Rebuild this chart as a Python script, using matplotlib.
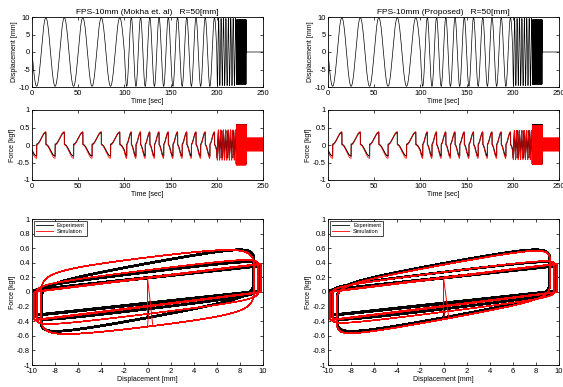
import numpy as np
import matplotlib
matplotlib.use("Agg")
import matplotlib.pyplot as plt
from matplotlib.ticker import FormatStrFormatter

plt.rcParams['font.family'] = ['Liberation Sans', 'DejaVu Sans']
plt.rcParams['axes.unicode_minus'] = False

# ---------------- data ----------------
titles = ["FPS-10mm (Mokha et. al)   R=50[mm]", "FPS-10mm (Proposed)   R=50[mm]"]
legend_labels = ["Experiment", "Simulation"]

# displacement protocol: sinusoidal segments
seg_start = [0, 100, 200, 221]      # s
seg_end = [100, 200, 221, 232]      # s
seg_cycles = [5, 10, 8, 22]
seg_amp = [9.8, 9.8, 9.6, 9.2]      # mm
t_end = 250

# loop slope [kgf/mm] and sliding friction [kgf] per segment, read from loops
exp_k = [0.017, 0.017, 0.019, 0.029]
exp_mu = [0.17, 0.18, 0.26, 0.39]
exp_offset = 0.02
mokha_k = [0.0195, 0.0195, 0.0195, 0.0195]
mokha_mu = [0.19, 0.20, 0.31, 0.50]
prop_k = [0.0195, 0.0195, 0.020, 0.029]
prop_mu = [0.19, 0.20, 0.28, 0.39]
mu_rest = [0.17, 0.19, 0.19]        # friction at motion reversal (exp, mokha, prop)
v_ref_frac = 0.4                    # speed (fraction of peak) where friction builds up
chatter_sim = [0.20, -0.17]         # kgf, band after motion stops

# ---------------- build series ----------------
dt = 0.004
t = np.arange(0, t_end + dt / 2, dt)
x = np.zeros_like(t)
v = np.zeros_like(t)
vmax = np.ones_like(t)
seg_id = np.full(len(t), -1)
for i, (s, e, c, a) in enumerate(zip(seg_start, seg_end, seg_cycles, seg_amp)):
    m = (t >= s) & (t < e)
    w = 2 * np.pi * c / (e - s)
    x[m] = -a * np.sin(w * (t[m] - s))
    v[m] = -a * w * np.cos(w * (t[m] - s))
    vmax[m] = a * w
    seg_id[m] = i
moving = seg_id >= 0
sgn = np.sign(v) * moving
build = 1 - np.exp(-np.abs(v) / (v_ref_frac * vmax))


def force(k_list, mu_list, mu0, offset, rest):
    k = np.zeros_like(t)
    mu = np.zeros_like(t)
    for i in range(len(seg_start)):
        m = seg_id == i
        k[m] = k_list[i]
        mu[m] = mu_list[i]
    fr = mu0 + (mu - mu0) * build
    return np.where(moving, k * x + fr * sgn + offset, rest)


chat = np.where(np.arange(len(t)) % 2 == 0, chatter_sim[0], chatter_sim[1])

F_exp = force(exp_k, exp_mu, mu_rest[0], exp_offset, 0.0)
F_mokha = force(mokha_k, mokha_mu, mu_rest[1], 0.0, chat)
F_prop = force(prop_k, prop_mu, mu_rest[2], 0.0, chat)
sims = [F_mokha, F_prop]

# ---------------- figure ----------------
fig = plt.figure(figsize=(5.63, 3.87), dpi=100)
lefts = [32 / 563, 328 / 563]
w_ax = 231 / 563


def style(ax):
    ax.tick_params(direction='in', top=True, right=True, length=2.5, width=0.5,
                   labelsize=5.5, pad=1.5)
    ax.tick_params(axis='x', pad=2.2)
    for sp in ax.spines.values():
        sp.set_linewidth(0.6)


for j in range(2):
    L = lefts[j]
    # displacement vs time
    ax1 = fig.add_axes([L, 1 - 87 / 387, w_ax, 70 / 387])
    ax1.plot(t, x, color='black', lw=0.5)
    ax1.set_xlim(0, 250)
    ax1.set_ylim(-10, 10)
    ax1.set_xticks(np.arange(0, 251, 50))
    ax1.set_yticks([-10, -5, 0, 5, 10])
    ax1.set_xlabel("Time [sec]", fontsize=5, labelpad=1)
    ax1.set_ylabel("Displacement [mm]", fontsize=5, labelpad=1)
    ax1.set_title(titles[j], fontsize=6, pad=2)
    style(ax1)

    # force vs time
    ax2 = fig.add_axes([L, 1 - 180 / 387, w_ax, 70 / 387])
    ax2.plot(t, F_exp, color='black', lw=0.8)
    ax2.plot(t, sims[j], color='#ff0000', lw=0.5)
    ax2.set_xlim(0, 250)
    ax2.set_ylim(-1, 1)
    ax2.set_xticks(np.arange(0, 251, 50))
    ax2.set_yticks([-1, -0.5, 0, 0.5, 1])
    ax2.yaxis.set_major_formatter(FormatStrFormatter('%g'))
    ax2.set_xlabel("Time [sec]", fontsize=5, labelpad=1)
    ax2.set_ylabel("Force [kgf]", fontsize=5, labelpad=1)
    style(ax2)

    # hysteresis loop
    ax3 = fig.add_axes([L, 1 - 365 / 387, w_ax, 146 / 387])
    ax3.plot(x[moving], F_exp[moving], color='black', lw=1.4, label=legend_labels[0])
    ax3.plot(x, sims[j], color='#ff0000', lw=0.7, label=legend_labels[1])
    ax3.set_xlim(-10, 10)
    ax3.set_ylim(-1, 1)
    ax3.set_xticks(np.arange(-10, 11, 2))
    ax3.set_yticks(np.round(np.linspace(-1, 1, 11), 1))
    ax3.yaxis.set_major_formatter(FormatStrFormatter('%g'))
    ax3.set_xlabel("Displacement [mm]", fontsize=5, labelpad=1)
    ax3.set_ylabel("Force [kgf]", fontsize=5, labelpad=1)
    style(ax3)
    leg = ax3.legend(loc='upper left', fontsize=4, frameon=True, fancybox=False,
                     framealpha=1, edgecolor='black', handlelength=3,
                     borderpad=0.3, labelspacing=0.2, borderaxespad=0.4)
    leg.get_frame().set_linewidth(0.5)
    for ln in leg.get_lines():
        ln.set_linewidth(0.6)

fig.savefig("out.png", dpi=100)
